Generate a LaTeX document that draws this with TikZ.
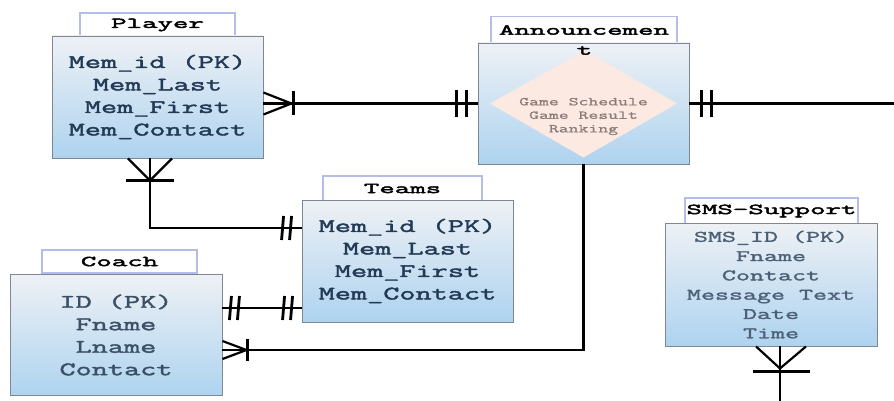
\documentclass[tikz,border=0pt]{standalone}
\usepackage{fontspec}
\usetikzlibrary{calc}
\newfontfamily\entfont[FakeStretch=1.65,FakeBold=2.2]{Latin Modern Mono}
\newfontfamily\smsfont[FakeStretch=1.7,FakeBold=1.8]{Latin Modern Mono}
\newfontfamily\ttlfont[FakeStretch=2.0,FakeBold=3]{Latin Modern Mono}
\newfontfamily\dmfont[FakeStretch=1.6,FakeBold=1]{Latin Modern Mono}
\definecolor{tabc}{HTML}{B4BDEA}
\definecolor{boxc}{HTML}{7D8894}
\definecolor{topc}{HTML}{EEF1F5}
\definecolor{botc}{HTML}{AED3EF}
\definecolor{navy}{HTML}{223A55}
\definecolor{coachc}{HTML}{3B4F66}
\definecolor{smsc}{HTML}{4B6075}
\definecolor{dtext}{HTML}{8A7A78}
\definecolor{diamc}{HTML}{FCE9E2}
\begin{document}
\begin{tikzpicture}[x=1pt,y=-1pt]
\useasboundingbox (0,0) rectangle (894,401);
\tikzset{
  tabbox/.style={draw=tabc, line width=1.4pt, fill=white, inner sep=0pt,
    font=\ttlfont\fontsize{15}{16}\selectfont, text=black},
  entbox/.style={draw=boxc, line width=0.9pt, top color=topc, bottom color=botc,
    inner sep=0pt, align=center},
  entA/.style={entbox, text=navy, font=\entfont\fontsize{19}{22.5}\selectfont},
  entC/.style={entbox, text=coachc, font=\entfont\fontsize{19}{22.5}\selectfont},
  entS/.style={entbox, text=smsc, font=\smsfont\fontsize{16}{19.3}\selectfont},
  rel/.style={line width=2.2pt, black},
  barline/.style={line width=2.8pt, black}
}
% tabs
\node[tabbox, minimum width=155, minimum height=24] (playert) at (157.5,25) {Player};
\node[tabbox, minimum width=186, minimum height=27, anchor=center] (annt) at (584,30) {Announcemen};
\node[tabbox, minimum width=159, minimum height=25] (teamst) at (402.5,188.5) {Teams};
\node[tabbox, minimum width=155, minimum height=23] (coacht) at (119.5,261.5) {Coach};
\node[tabbox, minimum width=173, minimum height=26] (smst) at (771.5,211) {SMS-Support};
% entity boxes
\node[entA, minimum width=211, minimum height=122] (player) at (157.5,97)
  {Mem\_id (PK)\\Mem\_Last\\Mem\_First\\Mem\_Contact};
\node[entbox, minimum width=211, minimum height=121] (ann) at (583.5,103.5) {};
\node[entA, minimum width=211, minimum height=122] (teams) at (407.5,261)
  {Mem\_id (PK)\\Mem\_Last\\Mem\_First\\Mem\_Contact};
\node[entC, minimum width=212, minimum height=121] (coach) at (116,335)
  {ID (PK)\\Fname\\Lname\\Contact};
\node[entS, minimum width=212, minimum height=123] (sms) at (771,284.5)
  {SMS\_ID (PK)\\Fname\\Contact\\Message Text\\Date\\Time};
% diamond inside Announcement
\fill[diamc] ($(ann.center)+(1.5,-53)$) -- ($(ann.center)+(93.5,0)$)
  -- ($(ann.center)+(0,54)$) -- ($(ann.center)+(-93.5,0)$) -- cycle;
\node[font=\ttlfont\fontsize{15}{16}\selectfont, inner sep=0pt] (annt2)
  at ($(ann.north)+(1,8)$) {t};
\node[font=\dmfont\fontsize{12}{13.5}\selectfont, text=dtext, align=center, inner sep=0pt]
  (anntext) at ($(ann.center)+(0,13)$) {Game Schedule\\Game Result\\Ranking};
% free ends
\coordinate (offR) at (894,103.5);
\coordinate (offB) at (780,401);
% Player -- Announcement
\coordinate (p1) at (player.east |- ann.west);
\draw[rel] (p1) -- (ann.west);
\draw[rel] ($(p1)+(0,-11)$) -- ($(p1)+(28,0)$) -- ($(p1)+(0,11)$);
\draw[barline] ($(p1)+(30,-12)$) -- ($(p1)+(30,12)$);
\draw[barline] ($(ann.west)+(-21,-13)$) -- ++(0,27);
\draw[barline] ($(ann.west)+(-11,-13)$) -- ++(0,27);
% Announcement -- right
\draw[rel] (ann.east) -- (offR);
\draw[barline] ($(ann.east)+(12,-13)$) -- ++(0,27);
\draw[barline] ($(ann.east)+(22,-13)$) -- ++(0,27);
% Player -- Teams
\coordinate (pb) at ($(player.south)+(-7.5,0)$);
\coordinate (tw) at ($(teams.west)+(0,-33)$);
\draw[rel] (pb) |- (tw);
\draw[rel] ($(pb)+(-22,0)$) -- ($(pb)+(0,22)$) -- ($(pb)+(22,0)$);
\draw[barline] ($(pb)+(-24,22)$) -- ($(pb)+(24,22)$);
\draw[barline] ($(tw)+(-18,-12)$) -- ++(-2,24);
\draw[barline] ($(tw)+(-10,-12)$) -- ++(-2,24);
% Coach -- Teams
\coordinate (ct) at ($(teams.west)+(0,47)$);
\coordinate (cc) at (coach.east |- ct);
\draw[rel] (cc) -- (ct);
\draw[barline] ($(cc)+(9,-12)$) -- ++(-2,24);
\draw[barline] ($(cc)+(17,-12)$) -- ++(-2,24);
\draw[barline] ($(ct)+(-9,-12)$) -- ++(-2,24);
\draw[barline] ($(ct)+(-17,-12)$) -- ++(-2,24);
% Announcement -- Coach
\coordinate (ce) at ($(coach.east)+(0,15)$);
\draw[rel] (ann.south) |- (ce);
\draw[line width=3.6pt] (ann.south) -- ++(0,22);
\draw[rel] ($(ce)+(0,-9)$) -- ($(ce)+(24,0)$) -- ($(ce)+(0,9)$);
\draw[barline] ($(ce)+(25,-11)$) -- ($(ce)+(25,11)$);
% SMS -- bottom
\coordinate (sb) at ($(sms.south)+(9,0)$);
\draw[rel] (sb) -- (offB);
\draw[rel] ($(sb)+(-24,0)$) -- ($(sb)+(0,22)$) -- ($(sb)+(26,0)$);
\draw[barline] ($(sb)+(-27,25)$) -- ($(sb)+(30,25)$);
\end{tikzpicture}
\end{document}
